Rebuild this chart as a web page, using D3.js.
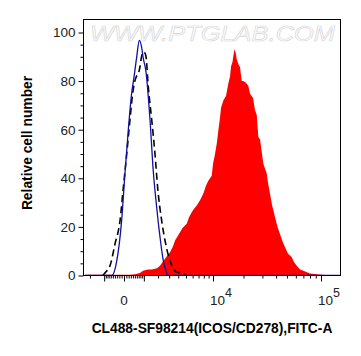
<!DOCTYPE html>
<html>
<head>
<meta charset="utf-8">
<script src="https://cdn.jsdelivr.net/npm/d3@7/dist/d3.min.js"></script>
<style>
  body { margin: 0; background: #fff; }
  text { font-family: "Liberation Sans", Arial, sans-serif; }
</style>
</head>
<body>
<svg id="chart" width="361" height="356"></svg>
<script>
// values (x = FITC-A intensity, y = relative count)
var redX = [-2420, 262, 506, 775, 949, 1264, 1540, 1916, 2160, 2446, 2789, 3087, 3403, 3624, 3972, 4218, 4536, 5109, 5443, 5856, 6225, 6681, 7272, 7902, 8450, 8939, 9705, 10011, 10496, 11006, 11347, 11805, 12084, 12740, 13555, 14281, 14841, 15177, 15697, 16342, 16785, 17236, 17857, 18528, 19245, 19799, 20680, 21460, 22215, 23040, 24580, 25660, 26600, 27525, 28540, 30600, 32862, 33778, 35220, 36727, 39100, 41188, 43390, 45680, 48110, 51165, 55203, 57874, 61153, 65400, 69967, 80160, 91798, 108500, 146700]
var redY = [0.3, 0.3, 0.5, 1, 2, 2.5, 2.5, 3, 4, 6, 8, 9.6, 12, 14.4, 16.5, 17.8, 19.5, 21.3, 24, 26, 27.5, 28.8, 31, 33.7, 37, 39, 41, 46, 50, 55, 59.7, 65, 69, 72, 74, 79, 82, 86, 88, 93, 92, 89, 87, 85.7, 80, 80, 79.6, 78.9, 78, 74.8, 73, 68, 66, 57, 56, 46, 42, 38, 33.6, 29, 24, 20, 17, 14, 11.6, 9, 7.5, 5.5, 4, 2.5, 2, 0.8, 0.5, 0.2, 0.1]

var blueX = [-2400, -950, -570, -320, -100, 40, 185, 340, 455, 595, 735, 890, 950, 1130, 1400, 1630, 1890, 2160, 2450, 2690, 2890, 7300, 146000]
var blueY = [0, 0, 0, 6, 22.6, 42, 60, 75, 81.6, 90, 96.7, 93, 90, 84, 64, 43, 28, 15.8, 6, 2, 0, 0, 0]

var dashX = [-1090, -890, -665, -405, -170, -30, 115, 260, 390, 560, 680, 775, 860, 965, 1070, 1135, 1285, 1520, 1760, 1970, 2300, 2600, 3090, 3820, 4430, 5010]
var dashY = [0, 1.5, 4, 13, 22.6, 36, 50, 64, 75, 81.6, 83, 86, 90, 92, 91.5, 90, 77.5, 64, 50, 36, 22.6, 14.4, 6, 1.4, 1, 0]

var yTicks = [0, 20, 40, 60, 80, 100]
var xMajor = [-1000, 0, 1000, 10000, 100000]
var xLabels = [{v: 0, base: "0", exp: ""}, {v: 10000, base: "10", exp: "4"}, {v: 100000, base: "10", exp: "5"}]

// plot frame (window.top is reserved, so prefixed names)
var pL = 83.5, pR = 340.5, pT = 19.5, pB = 275.5

var svg = d3.select("#chart")

var x = d3.scaleSymlog().constant(2083).domain([0, 100000]).range([124, 321])
var y = d3.scaleLinear().domain([0, 100]).range([pB, 32.5])

// minor ticks on the x axis
var xMinor = []
;[100, 1000, 10000].forEach(function(p){
	for (var k = 1; k <= 9; k++) xMinor.push(k * p)
})
xMinor = xMinor.filter(function(v){ return xMajor.indexOf(v) < 0 })
xMinor = xMinor.concat(xMinor.filter(function(v){ return v <= 2000 }).map(function(v){ return -v }))
xMinor = xMinor.filter(function(v){ return x(v) > pL && x(v) < pR })

var yMinor = d3.range(0, 101, 5).filter(function(v){ return v % 20 != 0 })

svg.append("rect").attr("width", 361).attr("height", 356).attr("fill", "#fff")

// watermark
svg.append("text")
	.attr("x", 90).attr("y", 41)
	.attr("textLength", 245).attr("lengthAdjust", "spacingAndGlyphs")
	.style("font-size", "22px").style("font-style", "italic")
	.style("fill", "#fbfbfb").style("stroke", "#d6d6d6").style("stroke-width", 0.6)
	.text("WWW.PTGLAB.COM")

svg.append("clipPath").attr("id", "clip").append("rect")
	.attr("x", pL).attr("y", pT).attr("width", pR - pL).attr("height", pB - pT)

var plot = svg.append("g").attr("clip-path", "url(#clip)")

var area = d3.area()
	.x(function(d){ return x(d[0]) })
	.y0(pB)
	.y1(function(d){ return y(d[1]) })

plot.append("path")
	.datum(d3.zip(redX, redY))
	.attr("d", area)
	.attr("fill", "#ff0000")

var line = d3.line()
	.x(function(d){ return x(d[0]) })
	.y(function(d){ return y(d[1]) })
	.curve(d3.curveMonotoneX)

plot.append("path")
	.datum(d3.zip(dashX, dashY))
	.attr("d", line)
	.attr("fill", "none").attr("stroke", "#000").attr("stroke-width", 1.6)
	.attr("stroke-dasharray", "7,4")

plot.append("path")
	.datum(d3.zip(blueX, blueY))
	.attr("d", line)
	.attr("fill", "none").attr("stroke", "#1010a0").attr("stroke-width", 1.3)

// frame
svg.append("rect")
	.attr("x", pL).attr("y", pT).attr("width", pR - pL).attr("height", pB - pT)
	.attr("fill", "none").attr("stroke", "#000").attr("stroke-width", 1)

// y axis
svg.append("g").attr("transform", "translate(" + pL + ",0)")
	.call(d3.axisLeft(y).tickValues(yMinor).tickSize(3).tickFormat(""))
	.call(function(g){ g.select(".domain").remove() })
svg.append("g").attr("transform", "translate(" + pL + ",0)")
	.call(d3.axisLeft(y).tickValues(yTicks).tickSize(5).tickPadding(3))
	.call(function(g){ g.select(".domain").remove() })
	.selectAll("text").style("font-size", "13.5px").style("fill", "#222").attr("font-family", null)

// x axis
svg.append("g").attr("transform", "translate(0," + pB + ")")
	.call(d3.axisBottom(x).tickValues(xMinor).tickSize(3).tickFormat(""))
	.call(function(g){ g.select(".domain").remove() })
svg.append("g").attr("transform", "translate(0," + pB + ")")
	.call(d3.axisBottom(x).tickValues(xMajor).tickSize(6).tickFormat(""))
	.call(function(g){ g.select(".domain").remove() })

var lab = svg.append("g").selectAll("text").data(xLabels).enter().append("text")
	.attr("x", function(d){ return d.exp ? x(d.v) - 3 : x(d.v) })
	.attr("y", 305)
	.attr("text-anchor", function(d){ return d.exp ? "start" : "middle" })
	.style("font-size", "13.5px").style("fill", "#222")
lab.append("tspan").text(function(d){ return d.base })
lab.append("tspan").attr("dy", -8).style("font-size", "12.5px").text(function(d){ return d.exp })

// axis titles
svg.append("text")
	.attr("x", 212).attr("y", 333)
	.attr("text-anchor", "middle")
	.style("font-size", "13.8px").style("font-weight", "bold")
	.text("CL488-SF98214(ICOS/CD278),FITC-A")

svg.append("text")
	.attr("transform", "translate(32,143) rotate(-90)")
	.attr("text-anchor", "middle")
	.style("font-size", "13.8px").style("font-weight", "bold")
	.text("Relative cell number")
</script>
</body>
</html>
